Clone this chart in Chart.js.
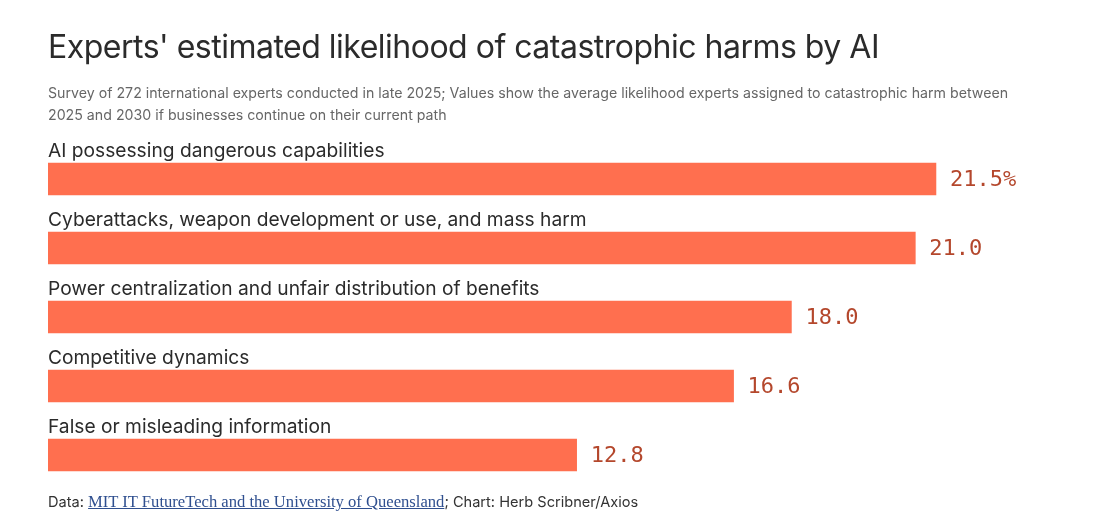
<!DOCTYPE html>
<html>
<head>
<meta charset="utf-8">
<script src="https://cdn.jsdelivr.net/npm/chart.js@4.4.1/dist/chart.umd.min.js"></script>
<style>
  html, body { margin: 0; padding: 0; background: #fff; }
  #wrap { position: relative; width: 1111px; height: 514px; overflow: hidden; }
  #chart { position: absolute; left: 0; top: 0; }
  .title {
    position: absolute; left: 48px; top: 27px; margin: 0;
    font-family: Inter, sans-serif; font-weight: 400; font-size: 32px;
    color: #2b2b2b; letter-spacing: -0.5px; white-space: nowrap;
  }
  .sub {
    position: absolute; left: 48px; top: 82px; width: 975px; margin: 0;
    font-family: Inter, sans-serif; font-size: 14.2px; line-height: 22px; color: #666;
  }
  .foot {
    position: absolute; left: 48px; top: 492px; margin: 0;
    font-family: Inter, sans-serif; font-size: 14.6px; color: #333; white-space: nowrap;
  }
  .foot a { font-family: "Liberation Serif", serif; font-size: 16.6px; color: #2f4f8f; text-decoration: underline; }
</style>
</head>
<body>
<div id="wrap">
  <canvas id="chart" width="1111" height="514"></canvas>
  <h1 class="title">Experts' estimated likelihood of catastrophic harms by AI</h1>
  <p class="sub">Survey of 272 international experts conducted in late 2025; Values show the average likelihood experts assigned to catastrophic harm between 2025 and 2030 if businesses continue on their current path</p>
  <p class="foot">Data: <a href="#">MIT IT FutureTech and the University of Queensland</a>; Chart: Herb Scribner/Axios</p>
</div>
<script>
// Data
const harms = [
  'AI possessing dangerous capabilities',
  'Cyberattacks, weapon development or use, and mass harm',
  'Power centralization and unfair distribution of benefits',
  'Competitive dynamics',
  'False or misleading information'
];
const likelihood = [21.5, 21.0, 18.0, 16.6, 12.8];

const barColor = '#ff6f4f';
const valueColor = '#b4472c';

// draws the category name above each bar and the value after it
const barLabels = {
  id: 'barLabels',
  afterDatasetsDraw(chart) {
    const ctx = chart.ctx;
    const meta = chart.getDatasetMeta(0);
    ctx.save();
    meta.data.forEach((bar, i) => {
      const top = bar.y - bar.height / 2;
      ctx.fillStyle = '#2b2b2b';
      ctx.font = '19.2px Inter, sans-serif';
      ctx.textAlign = 'left';
      ctx.textBaseline = 'alphabetic';
      ctx.fillText(harms[i], chart.chartArea.left, top - 6);

      ctx.fillStyle = valueColor;
      ctx.font = '22px "DejaVu Sans Mono", monospace';
      ctx.textBaseline = 'middle';
      const txt = likelihood[i].toFixed(1) + (i === 0 ? '%' : '');
      ctx.fillText(txt, bar.x + 14, bar.y + 1);
    });
    ctx.restore();
  }
};

const ctx = document.getElementById('chart').getContext('2d');
const harmChart = new Chart(ctx, {
  type: 'bar',
  data: {
    labels: harms,
    datasets: [{
      data: likelihood,
      backgroundColor: barColor,
      borderWidth: 0,
      barThickness: 32
    }]
  },
  options: {
    indexAxis: 'y',
    responsive: false,
    animation: false,
    layout: { padding: { top: 144.5, bottom: 24.5, left: 48, right: 30.5 } },
    scales: {
      x: { display: false, min: 0, max: 25 },
      y: { display: false }
    },
    plugins: {
      legend: { display: false },
      tooltip: { enabled: false }
    }
  },
  plugins: [barLabels]
});
</script>
</body>
</html>
